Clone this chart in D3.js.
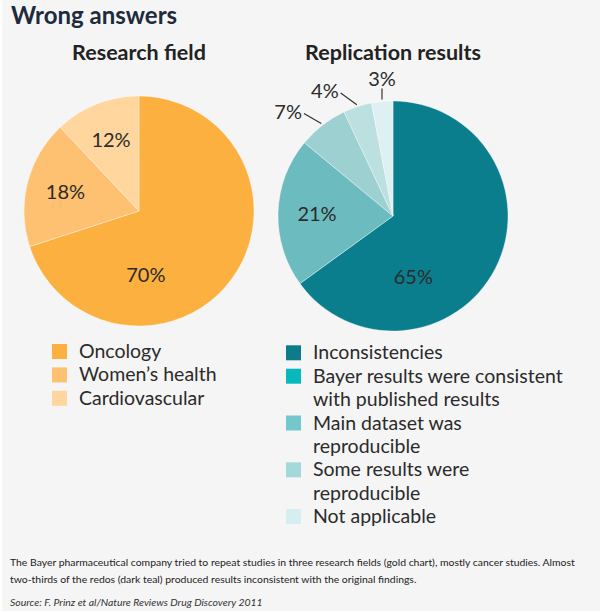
<!DOCTYPE html>
<html>
<head>
<meta charset="utf-8">
<script src="https://cdn.jsdelivr.net/npm/d3@7"></script>
<style>
  html, body { margin: 0; padding: 0; background: #fff; }
  svg { display: block; font-family: Lato, "Open Sans", sans-serif; }
</style>
</head>
<body>
<script>
// research field pie
const fieldNames = ["Oncology", "Women\u2019s health", "Cardiovascular"];
const fieldShares = [70, 18, 12];
const fieldColors = ["#fbb040", "#fdc171", "#fed69e"];

// replication results pie
const resultNames = [
    "Inconsistencies",
    "Bayer results were consistent\nwith published results",
    "Main dataset was\nreproducible",
    "Some results were\nreproducible",
    "Not applicable"
];
const resultShares = [65, 21, 7, 4, 3];
const resultSliceColors = ["#0b7e8e", "#6cbcbf", "#9dd0d1", "#bcdfe0", "#dff0f2"];
const resultSwatchColors = ["#0e7b8b", "#07b9bc", "#74c8cb", "#a4d9db", "#d5eef0"];

const footLines = [
    "The Bayer pharmaceutical company tried to repeat studies in three research fields (gold chart), mostly cancer studies. Almost",
    "two-thirds of the redos (dark teal) produced results inconsistent with the original findings."
];
const sourceText = "Source: F. Prinz et al/Nature Reviews Drug Discovery 2011";

const width = 600, height = 614;
const radius = 115;

const svg = d3.select("body").append("svg")
    .attr("width", width)
    .attr("height", height);

svg.append("rect")
    .attr("x", 2).attr("y", 0)
    .attr("width", width - 2).attr("height", 611)
    .attr("fill", "#f5f5f5");

svg.append("text")
    .attr("x", 11).attr("y", 24)
    .attr("font-size", 24).attr("font-weight", 700)
    .attr("fill", "#1d2b3c")
    .text("Wrong answers");

function drawPie(cx, cy, title, values, colors) {
    const g = svg.append("g").attr("transform", `translate(${cx},${cy})`);

    svg.append("text")
        .attr("x", cx).attr("y", 60)
        .attr("text-anchor", "middle")
        .attr("font-size", 21.5).attr("font-weight", 700)
        .attr("fill", "#222")
        .text(title);

    const pie = d3.pie().sort(null).value(d => d);
    const arcs = pie(values);
    const arc = d3.arc().innerRadius(0).outerRadius(radius);

    g.selectAll("path.slice")
        .data(arcs)
        .enter().append("path")
        .attr("class", "slice")
        .attr("d", arc)
        .attr("fill", (d, i) => colors[i])
        .attr("stroke", "#fff")
        .attr("stroke-width", 0.6)
        .attr("stroke-opacity", 0.6);

    const deg = Math.PI / 180;

    arcs.forEach(a => {
        const span = a.endAngle - a.startAngle;
        if (a.data >= 10) {
            // big slices get their label pulled toward the bottom
            let ang, r;
            if (a.data > 50) { ang = a.startAngle + 0.69 * span; r = 64; }
            else { ang = a.startAngle + 0.5 * span; r = 76; }
            g.append("text")
                .attr("x", Math.sin(ang) * r)
                .attr("y", -Math.cos(ang) * r + 7)
                .attr("text-anchor", "middle")
                .attr("font-size", 20)
                .attr("fill", "#2b2b2b")
                .text(a.data + "%");
        } else {
            const mid = a.startAngle + span / 2;
            const side = mid > Math.PI ? -1 : 1;
            const dev = (mid > Math.PI ? 2 * Math.PI - mid : mid) / deg;
            const phi = dev < 10 ? 0 : Math.min(dev * 3, 60) * deg;
            const len = phi === 0 ? 11 : 20;
            const x0 = Math.sin(mid) * (radius + 2), y0 = -Math.cos(mid) * (radius + 2);
            const x1 = x0 + side * Math.sin(phi) * len, y1 = y0 - Math.cos(phi) * len;
            g.append("line")
                .attr("x1", x0).attr("y1", y0)
                .attr("x2", x1).attr("y2", y1)
                .attr("stroke", "#333").attr("stroke-width", 1.2);
            const t = g.append("text")
                .attr("font-size", 20)
                .attr("fill", "#2b2b2b")
                .text(a.data + "%");
            if (phi === 0) {
                t.attr("x", x1).attr("y", y1 - 3).attr("text-anchor", "middle");
            } else {
                t.attr("x", x1 + side * 2).attr("y", y1 + 5)
                    .attr("text-anchor", side < 0 ? "end" : "start");
            }
        }
    });
}

drawPie(139, 211, "Research field", fieldShares, fieldColors);
drawPie(393, 216, "Replication results", resultShares, resultSliceColors);

function drawLegend(x, y0, names, colors) {
    const lineH = 23.4;
    let line = 0;
    names.forEach((name, i) => {
        const rows = name.split("\n");
        const base = y0 + line * lineH;
        svg.append("rect")
            .attr("x", x).attr("y", base - 14)
            .attr("width", 15).attr("height", 15)
            .attr("fill", colors[i]);
        const t = svg.append("text")
            .attr("x", x + 27).attr("y", base)
            .attr("font-size", 19.5)
            .attr("fill", "#2b2b2b");
        rows.forEach((r, j) => {
            t.append("tspan")
                .attr("x", x + 27)
                .attr("y", base + j * lineH)
                .text(r);
        });
        line += rows.length;
    });
}

drawLegend(52, 358, fieldNames, fieldColors);
drawLegend(286, 359.3, resultNames, resultSwatchColors);

// footnote: shrink the font so the first line spans the same width as the original
const foot = footLines.map((l, i) => svg.append("text")
    .attr("x", 10).attr("y", 566 + i * 17)
    .attr("font-size", 11)
    .attr("fill", "#222")
    .text(l));

const src = svg.append("text")
    .attr("x", 10).attr("y", 606)
    .attr("font-size", 11)
    .attr("font-style", "italic")
    .attr("fill", "#333")
    .text(sourceText);

const footSize = 11 * 565 / foot[0].node().getComputedTextLength();
foot.forEach(t => t.attr("font-size", footSize));
src.attr("font-size", footSize);
</script>
</body>
</html>
